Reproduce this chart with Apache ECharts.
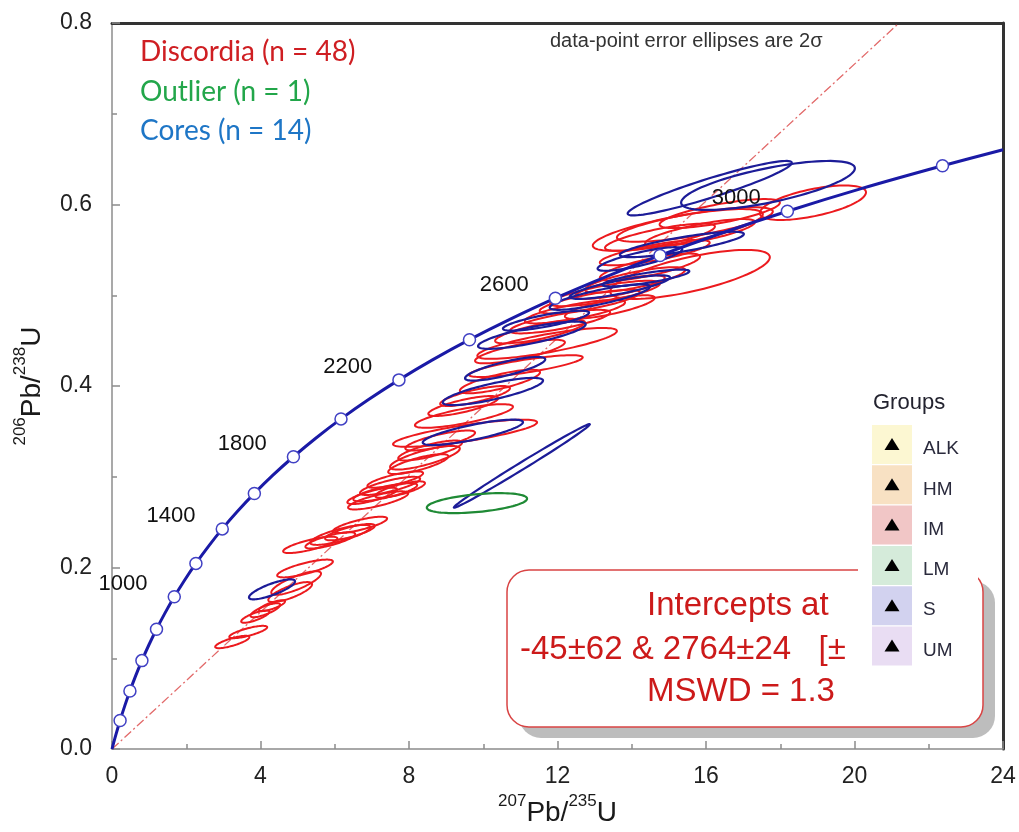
<!DOCTYPE html>
<html><head><meta charset="utf-8">
<script src="https://cdn.jsdelivr.net/npm/echarts@6/dist/echarts.min.js"></script>
<style>html,body{margin:0;padding:0;background:#fff}#c{width:1019px;height:832px}</style>
</head><body><div id="c"></div>
<script>
// Concordia curve (ages in Ma, 207Pb/235U, 206Pb/238U)
const concAges = [0,100,200,300,400,500,600,700,800,900,1000,1100,1200,1300,1400,1500,1600,1700,1800,1900,2000,2100,2200,2300,2400,2500,2600,2700,2800,2900,3000,3100,3200,3268];
const concX = [0,0.1035,0.2177,0.3437,0.4828,0.6362,0.8056,0.9925,1.1987,1.4263,1.6774,1.9546,2.2603,2.5978,2.9701,3.3810,3.8344,4.3346,4.8869,5.4957,6.1685,6.9105,7.7292,8.6327,9.6294,10.730,11.943,13.283,14.761,16.393,18.192,20.180,22.370,24.0];
const concY = [0,0.0156,0.0315,0.0476,0.0640,0.0807,0.0975,0.1147,0.1321,0.1498,0.1678,0.1861,0.2046,0.2234,0.2426,0.2620,0.2817,0.3018,0.3221,0.3428,0.3638,0.3851,0.4068,0.4288,0.4511,0.4737,0.4968,0.5201,0.5439,0.5681,0.5926,0.6175,0.6427,0.6604];
const markerAges = [200,400,600,800,1000,1200,1400,1600,1800,2000,2200,2400,2600,2800,3000,3200];
const labeledAges = [1000,1400,1800,2200,2600,3000];
// Discordia reference line end points
const discordiaLine = [[0,0],[21.2,0.8]];
// Error ellipses: [x, y, half-range x, half-range y, rho]
const discordiaEllipses = [
 [3.24,0.118,0.46,0.0068,0.78],[3.67,0.129,0.51,0.0068,0.78],[3.86,0.146,0.38,0.0068,0.78],
 [4.13,0.153,0.40,0.0077,0.78],[4.31,0.158,0.35,0.0060,0.78],[4.80,0.173,0.59,0.011,0.78],
 [4.96,0.183,0.67,0.013,0.8],[5.20,0.199,0.75,0.0098,0.78],[5.34,0.225,0.73,0.0090,0.78],
 [5.88,0.230,0.67,0.0090,0.78],[6.15,0.236,0.81,0.011,0.78],[6.41,0.239,0.67,0.0090,0.78],
 [6.68,0.247,0.73,0.0090,0.78],[7.17,0.274,0.81,0.0100,0.78],[7.36,0.283,0.86,0.0100,0.78],
 [7.49,0.290,0.81,0.0100,0.78],[7.63,0.297,0.75,0.0090,0.78],[7.01,0.279,0.67,0.0090,0.78],
 [7.76,0.286,0.67,0.0090,0.78],[8.43,0.321,0.94,0.013,0.78],[8.25,0.314,0.81,0.011,0.78],
 [8.57,0.329,0.86,0.011,0.78],[9.51,0.348,1.94,0.015,0.8],[8.84,0.340,0.94,0.011,0.78],
 [9.48,0.367,1.32,0.013,0.78],[9.46,0.378,0.94,0.011,0.78],[9.78,0.389,0.94,0.011,0.78],
 [11.15,0.422,1.53,0.012,0.8],[11.72,0.447,1.88,0.017,0.8],[10.45,0.405,1.08,0.013,0.78],
 [10.99,0.438,1.21,0.013,0.78],[11.53,0.460,1.21,0.013,0.78],[12.07,0.471,1.35,0.013,0.78],
 [12.47,0.482,1.35,0.013,0.78],[12.87,0.493,1.35,0.013,0.78],[13.28,0.502,1.48,0.014,0.78],
 [13.68,0.509,1.21,0.013,0.78],[14.09,0.517,1.35,0.014,0.78],[15.57,0.523,2.15,0.027,0.7],
 [14.49,0.531,1.35,0.015,0.78],[15.24,0.572,2.29,0.023,0.75],[15.70,0.578,2.10,0.019,0.75],
 [14.76,0.564,1.48,0.015,0.78],[15.84,0.569,1.48,0.015,0.78],[18.88,0.602,1.43,0.019,0.6],
 [16.37,0.590,1.62,0.016,0.75],[13.41,0.487,1.21,0.013,0.78],[14.62,0.547,1.48,0.014,0.78]
];
const coreEllipses = [
 [4.31,0.176,0.62,0.011,0.8],[10.26,0.394,1.35,0.015,0.8],[9.72,0.349,1.35,0.014,0.8],
 [11.04,0.312,1.83,0.046,0.995],[10.59,0.419,1.08,0.013,0.8],[11.31,0.456,1.45,0.015,0.8],
 [11.69,0.472,1.16,0.011,0.8],[13.14,0.498,1.35,0.014,0.82],[13.68,0.509,1.35,0.013,0.82],
 [14.38,0.519,1.17,0.0093,0.8],[14.22,0.540,1.14,0.013,0.82],[15.35,0.556,1.67,0.014,0.82],
 [16.10,0.618,2.21,0.030,0.93],[17.67,0.621,2.34,0.027,0.7]
];
const outlierEllipses = [[9.83,0.271,1.35,0.011,0.45]];
const legendLines = ['Discordia (n = 48)','Outlier (n = 1)','Cores (n = 14)'];
const groupNames = ['ALK','HM','IM','LM','S','UM'];
const interceptLines = ['Intercepts at','-45±62 & 2764±24   [±','MSWD = 1.3'];

const groupFills = ['#fcf7d2','#f8e1c3','#f1c6c6','#d5ebda','#d2d2ef','#e9ddf3'];
const RED='#ec1a1e', BLUE='#1c1c98', GREEN='#1f8a35';

function ellipseRender(color, width){
  return function(params, api){
    const cx=api.value(0), cy=api.value(1), dx=api.value(2), dy=api.value(3), r=api.value(4);
    const s=Math.sqrt(1-r*r), pts=[];
    for(let i=0;i<90;i++){
      const t=i/90*2*Math.PI, c=Math.cos(t), sn=Math.sin(t);
      pts.push(api.coord([cx+dx*c, cy+dy*(r*c+s*sn)]));
    }
    return {type:'polygon', shape:{points:pts}, style:{fill:'none', stroke:color, lineWidth:width}};
  };
}
function ellipseSeries(data,color,width){
  return {type:'custom', data:data, dimensions:['x','y','dx','dy','rho'], encode:{x:0,y:1},
    renderItem:ellipseRender(color,width), clip:true, silent:true};
}

const curveData = concX.map((x,i)=>[x,concY[i]]);
const markerData = markerAges.map(a=>{
  const i=concAges.indexOf(a);
  const item={value:[concX[i],concY[i]]};
  if(labeledAges.indexOf(a)>=0){
    item.label={show:true, formatter:String(a)};
  }
  return item;
});

const chart = echarts.init(document.getElementById('c'), null, {renderer:'canvas'});
const axisGray = '#8c8c8c';
const supRich = {
  m:{fontSize:28, fontFamily:'Liberation Sans', color:'#1a1a1a', verticalAlign:'bottom', lineHeight:34},
  s:{fontSize:17, fontFamily:'Liberation Sans', color:'#1a1a1a', verticalAlign:'top', lineHeight:34}
};

const graphic = [];
const legendColors=['#cf1e22','#22a64a','#1e76c6'];
legendLines.forEach((t,i)=>{
  graphic.push({type:'text', left:140, top:[38,78,117][i], z:10,
    style:{text:t, fill:legendColors[i], font:'28px Lato'}});
});
graphic.push({type:'text', left:550, top:31, z:10, style:{text:'data-point error ellipses are 2σ', fill:'#333', font:'20px "Liberation Sans"'}});
// Intercepts box
graphic.push({type:'rect', shape:{x:519,y:581,width:476,height:157,r:22}, z:20, style:{fill:'#bdbdbd'}});
graphic.push({type:'rect', shape:{x:507,y:570,width:476,height:157,r:22}, z:21, style:{fill:'#fff', stroke:'#d94444', lineWidth:1.5}});
const ipos=[[647,606],[520,650],[647,692]];
interceptLines.forEach((t,i)=>{
  graphic.push({type:'text', x:ipos[i][0], y:ipos[i][1], z:22,
    style:{text:t, fill:'#cc1a1a', font:'33px "Liberation Sans"', verticalAlign:'middle'}});
});
// Groups legend
graphic.push({type:'rect', shape:{x:858,y:380,width:120,height:292}, z:30, style:{fill:'#fff'}});
graphic.push({type:'text', x:873, y:403, z:31, style:{text:'Groups', fill:'#23232f', font:'22px "Liberation Sans"', verticalAlign:'middle'}});
groupNames.forEach((g,i)=>{
  const top=425+40.3*i;
  graphic.push({type:'rect', shape:{x:872,y:top,width:40,height:39}, z:31, style:{fill:groupFills[i]}});
  const cy=top+20;
  graphic.push({type:'polygon', shape:{points:[[892,cy-7],[884.5,cy+5],[899.5,cy+5]]}, z:32, style:{fill:'#000'}});
  graphic.push({type:'text', x:923, y:cy+4, z:32, style:{text:g, fill:'#2a2a3c', font:'19px "Liberation Sans"', verticalAlign:'middle'}});
});

chart.setOption({
  animation:false,
  backgroundColor:'#fff',
  grid:{left:112, right:16, top:23, bottom:76},
  xAxis:[{
    type:'value', min:0, max:24, interval:4,
    name:'{s|207}{m|Pb/}{s|235}{m|U}', nameLocation:'middle', nameGap:22,
    nameTextStyle:{rich:supRich},
    axisLine:{onZero:false, lineStyle:{color:axisGray, width:1.5}},
    axisTick:{inside:true, length:8, lineStyle:{color:axisGray, width:1.5}},
    minorTick:{show:true, splitNumber:2, length:5, lineStyle:{color:axisGray, width:1.5}},
    splitLine:{show:false},
    axisLabel:{fontSize:23, color:'#222', fontFamily:'Liberation Sans', margin:16}
  },{
    type:'value', position:'top', min:0, max:24,
    axisLine:{show:true, onZero:false, lineStyle:{color:'#333', width:3}}, axisTick:{show:false}, axisLabel:{show:false}, splitLine:{show:false}
  }],
  yAxis:[{
    type:'value', min:0, max:0.8, interval:0.2,
    name:'{s|206}{m|Pb/}{s|238}{m|U}', nameLocation:'middle', nameGap:66, nameRotate:90,
    nameTextStyle:{rich:supRich},
    axisLine:{onZero:false, lineStyle:{color:axisGray, width:1.5}},
    axisTick:{inside:true, length:8, lineStyle:{color:axisGray, width:1.5}},
    minorTick:{show:true, splitNumber:2, length:5, lineStyle:{color:axisGray, width:1.5}},
    splitLine:{show:false},
    axisLabel:{fontSize:23, color:'#222', fontFamily:'Liberation Sans', margin:20, formatter:v=>v.toFixed(1)}
  },{
    type:'value', position:'right', min:0, max:0.8,
    axisLine:{show:true, onZero:false, lineStyle:{color:'#333', width:3}}, axisTick:{show:false}, axisLabel:{show:false}, splitLine:{show:false}
  }],
  series:[
    {type:'line', data:discordiaLine, symbol:'none', silent:true, z:1,
      lineStyle:{color:'#e26a6a', width:1.3, type:[9,3,2,3]}},
    ellipseSeries(discordiaEllipses, RED, 2),
    ellipseSeries(coreEllipses, BLUE, 2.2),
    ellipseSeries(outlierEllipses, GREEN, 2.2),
    {type:'line', data:curveData, symbol:'none', smooth:0.3, silent:true, z:5,
      lineStyle:{color:'#1a1aa6', width:3}},
    {type:'scatter', data:markerData, symbol:'circle', symbolSize:12, silent:true, z:6,
      itemStyle:{color:'#fff', opacity:1, borderColor:'#4141c4', borderWidth:1.5},
      label:{show:false, position:'left', distance:20, offset:[0,-13], fontSize:22, color:'#111', fontFamily:'Liberation Sans'}}
  ],
  graphic:graphic
});
</script></body></html>
